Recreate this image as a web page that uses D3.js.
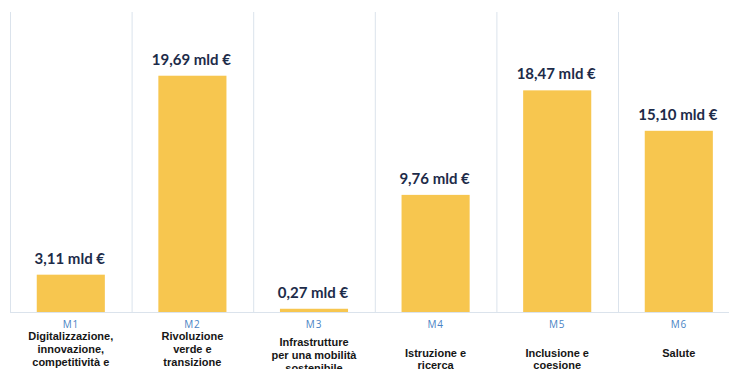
<!DOCTYPE html>
<html>
<head>
<meta charset="utf-8">
<script src="https://cdn.jsdelivr.net/npm/d3@7"></script>
<style>
  html, body { margin: 0; padding: 0; background: #ffffff; }
  svg { display: block; }
</style>
</head>
<body>
<svg id="chart" width="729" height="369"></svg>
<script>
// Missioni del PNRR: risorse assegnate (miliardi di euro)
const codes = ["M1", "M2", "M3", "M4", "M5", "M6"];
const values = [3.11, 19.69, 0.27, 9.76, 18.47, 15.10];
const valueLabels = ["3,11 mld €", "19,69 mld €", "0,27 mld €", "9,76 mld €", "18,47 mld €", "15,10 mld €"];
const names = [
  ["Digitalizzazione,", "innovazione,", "competitività e", "cultura"],
  ["Rivoluzione", "verde e", "transizione", "ecologica"],
  ["Infrastrutture", "per una mobilità", "sostenibile"],
  ["Istruzione e", "ricerca"],
  ["Inclusione e", "coesione"],
  ["Salute"]
];

const svg = d3.select("#chart");
const plotLeft = 10, plotRight = 739.6, plotTop = 12, plotBottom = 312;

const x = d3.scaleBand().domain(codes).range([plotLeft, plotRight]).paddingInner(0.44).paddingOuter(0.22);
const band = d3.scaleBand().domain(codes).range([plotLeft, plotRight]);
const y = d3.scaleLinear().domain([0, 25]).range([plotBottom, plotTop]);

const gridColor = "#dbe3ec";

// column separators
svg.append("g").selectAll("line").data(codes).join("line")
  .attr("x1", d => band(d) + 0.5).attr("x2", d => band(d) + 0.5)
  .attr("y1", plotTop).attr("y2", plotBottom)
  .attr("stroke", gridColor).attr("stroke-width", 1);

// baseline
svg.append("line")
  .attr("x1", plotLeft).attr("x2", plotRight)
  .attr("y1", plotBottom + 0.5).attr("y2", plotBottom + 0.5)
  .attr("stroke", gridColor).attr("stroke-width", 1);

// bars
svg.append("g").selectAll("rect").data(values).join("rect")
  .attr("x", (d, i) => x(codes[i]))
  .attr("width", x.bandwidth())
  .attr("y", d => y(d))
  .attr("height", d => y(0) - y(d))
  .attr("fill", "#f7c64f");

// value labels
svg.append("g").selectAll("text").data(values).join("text")
  .attr("x", (d, i) => band(codes[i]) + band.bandwidth() / 2 - 1)
  .attr("y", d => y(d) - 11)
  .attr("text-anchor", "middle")
  .attr("font-family", "Lato, 'Open Sans', sans-serif")
  .attr("font-weight", 700)
  .attr("font-size", 15)
  .attr("fill", "#1d2b49")
  .text((d, i) => valueLabels[i]);

// mission codes
svg.append("g").selectAll("text").data(codes).join("text")
  .attr("x", d => band(d) + band.bandwidth() / 2)
  .attr("y", 327.5)
  .attr("text-anchor", "middle")
  .attr("font-family", "'Open Sans', 'Liberation Sans', sans-serif")
  .attr("font-size", 10)
  .attr("letter-spacing", 0.8)
  .attr("fill", "#4a84c4")
  .text(d => d);

// mission names
const lh = 13;
const nameGroups = svg.append("g").selectAll("text").data(names).join("text")
  .attr("text-anchor", "middle")
  .attr("font-family", "'Liberation Sans', Arial, sans-serif")
  .attr("font-weight", 700)
  .attr("font-size", 11)
  .attr("fill", "#161616");
nameGroups.each(function(lines, i) {
  const cx = band(codes[i]) + band.bandwidth() / 2;
  const first = lines.length > 2 ? 359 - (lines.length - 1) * lh / 2 : 357;
  d3.select(this).selectAll("tspan").data(lines).join("tspan")
    .attr("x", cx)
    .attr("y", (l, j) => first + j * (lines.length > 2 ? lh : 12))
    .text(l => l);
});
</script>
</body>
</html>
